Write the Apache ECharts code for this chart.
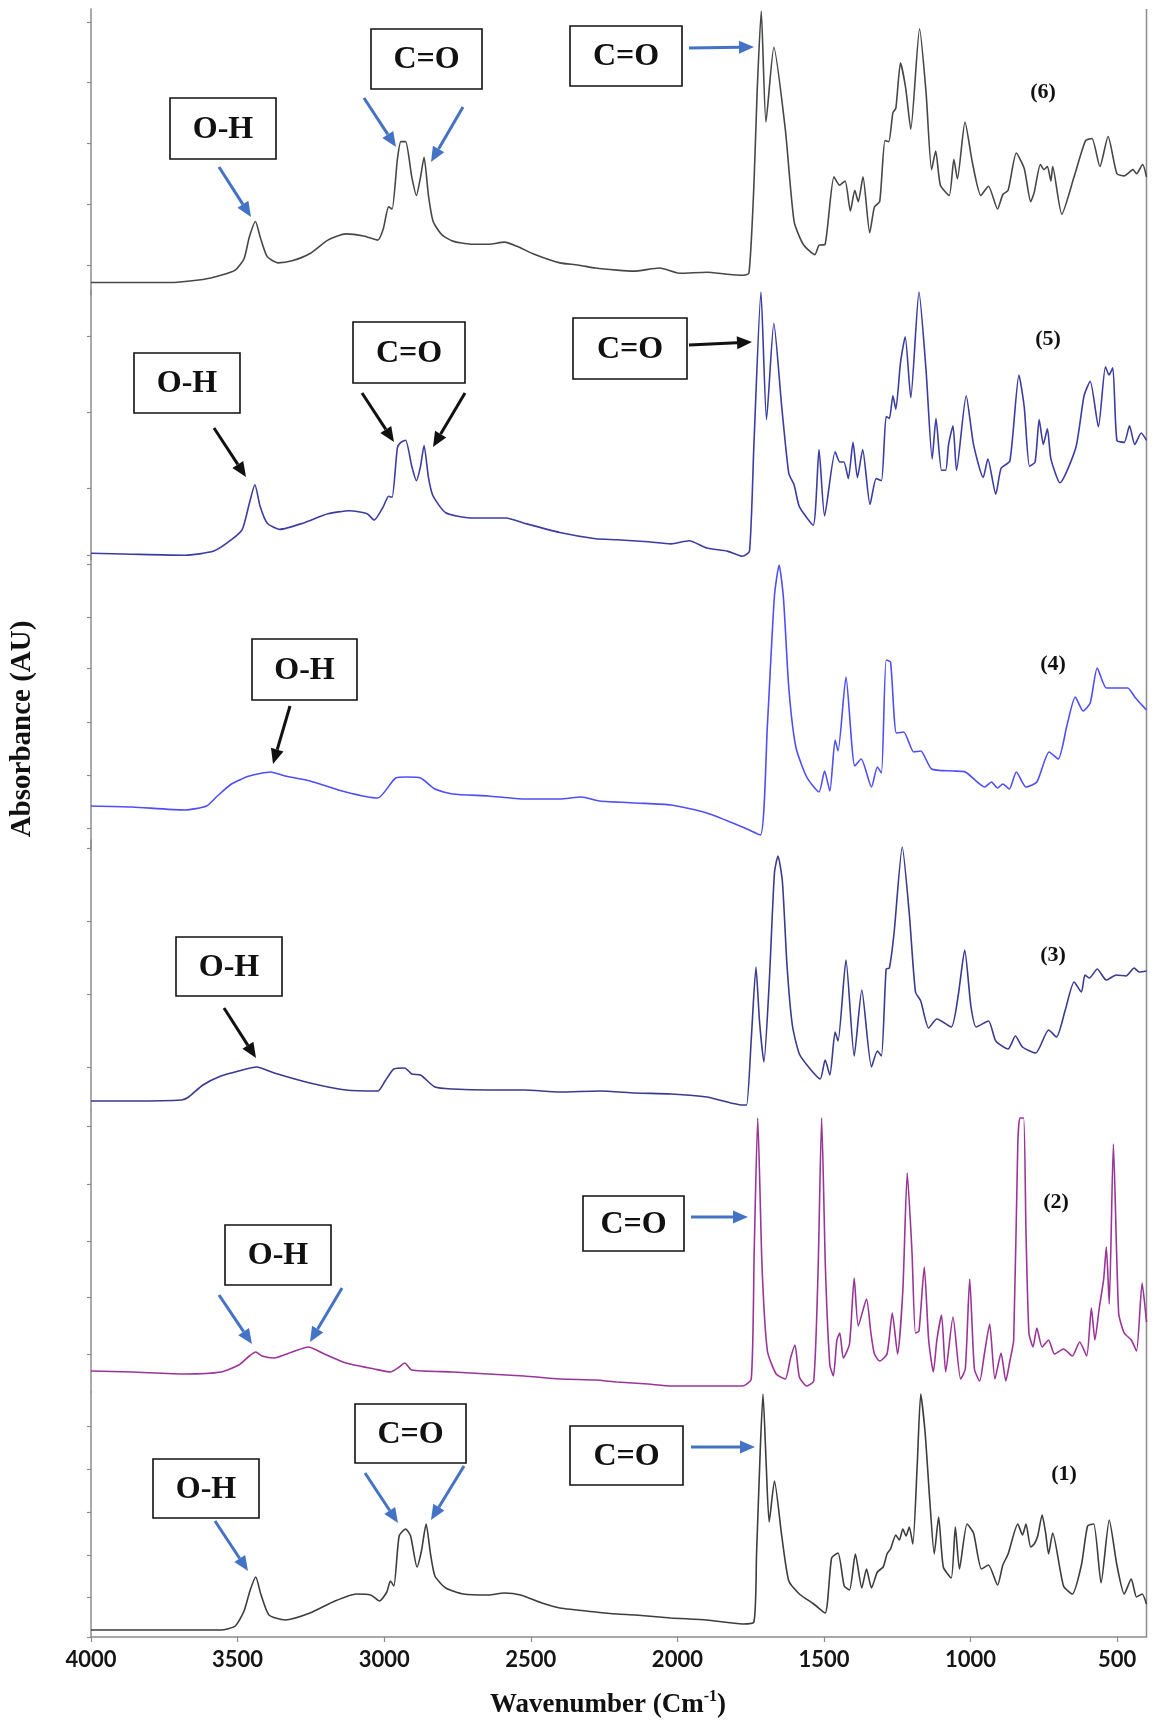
<!DOCTYPE html>
<html><head><meta charset="utf-8">
<script src="https://cdn.jsdelivr.net/npm/echarts@6/dist/echarts.min.js"></script>
<style>html,body{margin:0;padding:0;background:#fff}#c{width:1157px;height:1727px}</style>
</head><body><div id="c"></div>
<script>
// Wavenumber (cm-1) / relative absorbance pairs
const spectrum6 = [[4000,0.012],[3861,0.012],[3740,0.012],[3618,0.015],[3557,0.019],[3508,0.024],[3478,0.035],[3460,0.056],[3439,0.071],[3423,0.056],[3399,0.037],[3362,0.031],[3314,0.033],[3253,0.040],[3192,0.053],[3131,0.059],[3070,0.057],[3022,0.053],[3003,0.064],[2985,0.085],[2973,0.083],[2955,0.131],[2943,0.148],[2927,0.148],[2906,0.114],[2890,0.096],[2876,0.114],[2864,0.133],[2849,0.096],[2833,0.071],[2803,0.058],[2766,0.052],[2705,0.049],[2644,0.049],[2590,0.051],[2547,0.047],[2486,0.039],[2401,0.031],[2340,0.029],[2279,0.026],[2206,0.024],[2150,0.023],[2060,0.026],[1990,0.021],[1900,0.022],[1830,0.020],[1778,0.019],[1756,0.021],[1739,0.106],[1728,0.196],[1714,0.274],[1698,0.167],[1671,0.239],[1632,0.160],[1602,0.071],[1571,0.049],[1531,0.039],[1517,0.048],[1496,0.049],[1466,0.114],[1447,0.106],[1428,0.110],[1410,0.081],[1395,0.101],[1383,0.090],[1367,0.114],[1344,0.060],[1328,0.085],[1310,0.090],[1292,0.149],[1279,0.148],[1265,0.176],[1255,0.180],[1239,0.224],[1221,0.199],[1204,0.160],[1174,0.257],[1152,0.196],[1133,0.121],[1119,0.139],[1103,0.106],[1073,0.096],[1057,0.131],[1045,0.112],[1019,0.167],[994,0.128],[965,0.096],[939,0.105],[908,0.083],[890,0.097],[872,0.101],[844,0.137],[817,0.122],[795,0.090],[783,0.099],[762,0.126],[750,0.121],[738,0.124],[726,0.110],[720,0.124],[689,0.078],[647,0.114],[608,0.149],[586,0.151],[559,0.124],[531,0.153],[501,0.117],[476,0.115],[446,0.121],[434,0.117],[413,0.126],[400,0.114]];

const spectrum5 = [[4000,0.006],[3861,0.005],[3679,0.004],[3581,0.008],[3521,0.019],[3484,0.029],[3460,0.054],[3441,0.072],[3423,0.051],[3399,0.035],[3356,0.029],[3277,0.035],[3192,0.044],[3119,0.047],[3058,0.044],[3034,0.038],[3003,0.051],[2985,0.061],[2973,0.060],[2955,0.108],[2943,0.113],[2927,0.115],[2906,0.090],[2890,0.076],[2876,0.090],[2864,0.110],[2849,0.079],[2833,0.061],[2790,0.045],[2705,0.040],[2584,0.040],[2523,0.035],[2401,0.026],[2279,0.020],[2206,0.019],[2100,0.017],[2022,0.015],[1960,0.018],[1900,0.011],[1830,0.008],[1778,0.003],[1754,0.008],[1739,0.111],[1715,0.258],[1696,0.135],[1671,0.228],[1644,0.147],[1620,0.083],[1602,0.072],[1584,0.051],[1537,0.033],[1517,0.106],[1498,0.042],[1462,0.104],[1446,0.094],[1432,0.094],[1417,0.078],[1401,0.113],[1386,0.079],[1368,0.106],[1343,0.053],[1322,0.078],[1304,0.076],[1288,0.138],[1277,0.136],[1265,0.158],[1255,0.145],[1239,0.190],[1223,0.215],[1204,0.156],[1176,0.258],[1152,0.183],[1131,0.097],[1118,0.136],[1099,0.086],[1085,0.086],[1075,0.111],[1060,0.129],[1048,0.086],[1015,0.158],[990,0.111],[957,0.079],[941,0.097],[914,0.063],[896,0.088],[866,0.095],[835,0.178],[817,0.147],[799,0.090],[780,0.094],[766,0.135],[752,0.111],[738,0.126],[726,0.097],[695,0.074],[641,0.108],[613,0.158],[592,0.172],[564,0.128],[540,0.186],[528,0.178],[515,0.185],[501,0.115],[476,0.113],[458,0.129],[440,0.111],[418,0.122],[400,0.115]];

const spectrum4 = [[4000,0.044],[3861,0.043],[3679,0.040],[3606,0.044],[3569,0.054],[3521,0.066],[3460,0.074],[3387,0.078],[3338,0.074],[3253,0.069],[3131,0.058],[3022,0.052],[2961,0.072],[2924,0.073],[2876,0.072],[2827,0.061],[2766,0.056],[2645,0.054],[2523,0.051],[2401,0.051],[2328,0.053],[2265,0.049],[2143,0.047],[2022,0.045],[1900,0.037],[1778,0.023],[1717,0.015],[1693,0.125],[1669,0.254],[1653,0.285],[1638,0.251],[1620,0.162],[1596,0.103],[1559,0.073],[1517,0.058],[1498,0.079],[1480,0.059],[1462,0.110],[1452,0.099],[1425,0.173],[1395,0.084],[1373,0.091],[1338,0.063],[1318,0.083],[1304,0.077],[1288,0.190],[1273,0.188],[1253,0.117],[1228,0.118],[1194,0.098],[1170,0.099],[1133,0.081],[1060,0.079],[1018,0.078],[951,0.063],[929,0.068],[908,0.062],[890,0.066],[868,0.061],[844,0.078],[811,0.063],[774,0.068],[732,0.098],[701,0.091],[671,0.125],[643,0.153],[616,0.139],[592,0.147],[568,0.182],[537,0.162],[501,0.162],[464,0.162],[440,0.153],[422,0.147],[400,0.140]];

const spectrum3 = [[4000,0.009],[3861,0.009],[3691,0.010],[3667,0.013],[3618,0.025],[3557,0.034],[3496,0.039],[3435,0.043],[3375,0.037],[3253,0.027],[3131,0.020],[3022,0.019],[2997,0.029],[2967,0.041],[2930,0.042],[2906,0.036],[2876,0.035],[2827,0.023],[2766,0.021],[2645,0.020],[2523,0.020],[2401,0.018],[2265,0.019],[2143,0.017],[2022,0.016],[1900,0.013],[1778,0.005],[1764,0.005],[1748,0.071],[1732,0.143],[1720,0.089],[1705,0.048],[1687,0.126],[1669,0.237],[1657,0.254],[1642,0.229],[1626,0.144],[1608,0.085],[1584,0.056],[1547,0.041],[1513,0.031],[1496,0.050],[1480,0.035],[1462,0.078],[1452,0.069],[1425,0.150],[1397,0.054],[1371,0.120],[1338,0.043],[1318,0.059],[1304,0.054],[1288,0.141],[1277,0.142],[1261,0.177],[1233,0.263],[1209,0.196],[1188,0.118],[1170,0.109],[1143,0.082],[1115,0.091],[1066,0.083],[1042,0.115],[1020,0.160],[999,0.104],[981,0.083],[939,0.089],[914,0.069],[872,0.061],[847,0.074],[823,0.063],[778,0.057],[734,0.080],[707,0.073],[677,0.100],[647,0.128],[622,0.118],[610,0.135],[595,0.132],[568,0.141],[537,0.130],[503,0.135],[470,0.134],[442,0.142],[425,0.138],[400,0.139]];

const spectrum2 = [[4000,0.021],[3861,0.020],[3679,0.018],[3557,0.020],[3496,0.027],[3460,0.036],[3438,0.040],[3417,0.036],[3375,0.034],[3314,0.040],[3259,0.045],[3204,0.038],[3131,0.029],[3034,0.023],[2979,0.020],[2949,0.025],[2930,0.029],[2906,0.022],[2766,0.020],[2645,0.018],[2523,0.016],[2401,0.013],[2279,0.012],[2206,0.010],[2100,0.008],[2022,0.006],[1900,0.006],[1778,0.006],[1748,0.013],[1738,0.141],[1726,0.274],[1711,0.123],[1693,0.041],[1663,0.018],[1632,0.013],[1614,0.034],[1599,0.047],[1584,0.015],[1559,0.006],[1535,0.011],[1520,0.123],[1508,0.274],[1495,0.123],[1480,0.027],[1468,0.016],[1456,0.052],[1446,0.059],[1434,0.034],[1413,0.048],[1397,0.114],[1383,0.066],[1355,0.093],[1340,0.059],[1328,0.038],[1310,0.031],[1285,0.038],[1267,0.079],[1249,0.038],[1231,0.102],[1216,0.219],[1200,0.141],[1188,0.059],[1176,0.061],[1158,0.125],[1143,0.052],[1127,0.020],[1115,0.052],[1099,0.077],[1085,0.020],[1060,0.075],[1034,0.013],[1018,0.023],[1003,0.113],[987,0.023],[969,0.011],[953,0.038],[935,0.068],[917,0.013],[896,0.039],[880,0.011],[866,0.031],[853,0.052],[839,0.248],[832,0.274],[819,0.274],[811,0.159],[801,0.059],[787,0.045],[774,0.064],[756,0.045],[734,0.052],[714,0.038],[683,0.043],[653,0.036],[628,0.050],[604,0.036],[588,0.084],[576,0.052],[561,0.084],[546,0.113],[537,0.145],[527,0.088],[513,0.248],[495,0.079],[476,0.059],[452,0.052],[434,0.041],[415,0.109],[400,0.070]];

const spectrum1 = [[4000,0.007],[3861,0.007],[3679,0.007],[3557,0.007],[3508,0.011],[3478,0.026],[3457,0.047],[3438,0.060],[3421,0.043],[3393,0.022],[3338,0.017],[3253,0.024],[3168,0.036],[3095,0.043],[3046,0.042],[3016,0.036],[2991,0.045],[2979,0.056],[2967,0.051],[2949,0.101],[2927,0.108],[2910,0.101],[2888,0.070],[2873,0.086],[2857,0.113],[2842,0.083],[2827,0.061],[2790,0.049],[2730,0.043],[2645,0.042],[2590,0.044],[2535,0.042],[2462,0.034],[2401,0.029],[2279,0.025],[2206,0.023],[2143,0.022],[2022,0.019],[1900,0.017],[1778,0.013],[1739,0.015],[1730,0.083],[1717,0.190],[1708,0.243],[1697,0.172],[1687,0.115],[1669,0.156],[1644,0.101],[1620,0.056],[1584,0.043],[1535,0.033],[1496,0.024],[1474,0.079],[1452,0.084],[1431,0.051],[1413,0.047],[1393,0.083],[1371,0.049],[1355,0.068],[1338,0.049],[1318,0.065],[1298,0.070],[1285,0.083],[1273,0.088],[1255,0.102],[1243,0.097],[1231,0.108],[1220,0.101],[1209,0.110],[1197,0.093],[1182,0.172],[1170,0.243],[1155,0.204],[1139,0.136],[1124,0.083],[1109,0.120],[1093,0.070],[1066,0.059],[1052,0.110],[1038,0.068],[1012,0.113],[990,0.104],[963,0.068],[939,0.072],[908,0.052],[890,0.072],[872,0.083],[839,0.113],[823,0.102],[811,0.113],[795,0.090],[783,0.093],[771,0.101],[756,0.122],[744,0.104],[734,0.083],[720,0.104],[683,0.051],[653,0.043],[622,0.072],[601,0.111],[580,0.113],[555,0.054],[527,0.117],[501,0.072],[476,0.043],[452,0.058],[434,0.040],[415,0.043],[400,0.033]];

const sampleLabels = ['(6)','(5)','(4)','(3)','(2)','(1)'];
const xTickLabels = [4000,3500,3000,2500,2000,1500,1000,500];

const spectra = [spectrum6, spectrum5, spectrum4, spectrum3, spectrum2, spectrum1];
const colors = ['#474747','#3c3ca2','#4f4ff5','#3a3a8e','#9a3598','#3d3d3d'];
// panel layout (px) and y-range of each stacked panel
const panels = [
  {top:9,     height:286,   max:0.276, ticks:[0.029,0.088,0.146,0.205,0.263]},
  {top:290.1, height:269.3, max:0.260, ticks:[0.004,0.069,0.142,0.215]},
  {top:555,   height:295,   max:0.295, ticks:[0.022,0.075,0.128,0.182,0.233,0.286]},
  {top:840,   height:270,   max:0.270, ticks:[0.043,0.116,0.189,0.262]},
  {top:1110,  height:282,   max:0.282, ticks:[0.038,0.095,0.151,0.208,0.266]},
  {top:1392,  height:245,   max:0.245, ticks:[0,0.040,0.082,0.125,0.168,0.211]}
];
const AX = '#8c8c8c';
const grids = [], xAxes = [], yAxes = [], series = [];
panels.forEach((p, i) => {
  grids.push({left:91, right:10.5, top:p.top, height:p.height});
  const last = i === panels.length - 1;
  xAxes.push({
    gridIndex:i, type:'value', min:400, max:4000, inverse:true, show:last,
    axisLine:{show:true, onZero:false, lineStyle:{color:AX, width:1.5}},
    axisTick:{show:true, customValues:xTickLabels, length:5, lineStyle:{color:AX, width:1.2}},
    axisLabel:{show:true, customValues:xTickLabels, formatter:v => String(v), fontSize:22, fontWeight:'bold', fontFamily:'Lato', color:'#151515', margin:12},
    splitLine:{show:false}
  });
  yAxes.push({
    gridIndex:i, type:'value', min:0, max:p.max,
    axisLine:{show:true, lineStyle:{color:AX, width:1.5}},
    axisTick:{show:true, customValues:p.ticks, length:4, lineStyle:{color:AX, width:1.2}},
    axisLabel:{show:false}, splitLine:{show:false}
  });
  series.push({
    type:'line', xAxisIndex:i, yAxisIndex:i, data:spectra[i], showSymbol:false, smooth:0.2,
    lineStyle:{color:colors[i], width:1.6}, itemStyle:{color:colors[i]}, silent:true
  });
});

// annotation layout
const SERIF = '"Liberation Serif", "Times New Roman", serif';
const boxes = [
  [170,98,106,61,'O-H'],[371,29,111,60,'C=O'],[570,26,112,60,'C=O'],
  [134,353,106,60,'O-H'],[353,322,112,61,'C=O'],[573,318,114,61,'C=O'],
  [252,639,105,61,'O-H'],
  [176,937,106,59,'O-H'],
  [225,1225,106,60,'O-H'],[583,1196,101,55,'C=O'],
  [153,1459,106,59,'O-H'],[355,1404,111,59,'C=O'],[570,1426,113,59,'C=O']
];
const BLUE = '#4472c4', BLACK = '#111111';
const arrows = [
  [219,167,251,217,BLUE],[364,98,396,147,BLUE],[463,107,431,162,BLUE],[689,48,754,47,BLUE],
  [214,428,246,477,BLACK],[362,393,394,442,BLACK],[465,393,433,447,BLACK],[689,345,752,342,BLACK],
  [290,706,273,764,BLACK],
  [224,1008,256,1058,BLACK],
  [219,1295,252,1344,BLUE],[342,1288,310,1342,BLUE],[691,1217,748,1217,BLUE],
  [215,1521,248,1571,BLUE],[365,1473,398,1523,BLUE],[464,1466,431,1520,BLUE],[691,1447,755,1447,BLUE]
];
const labelPos = [[1043,92],[1048,339],[1053,664],[1053,955],[1056,1202],[1064,1474]];

const graphic = [];
graphic.push({type:'line', shape:{x1:1146.5, y1:9, x2:1146.5, y2:1637}, style:{stroke:AX, lineWidth:1.5}});
boxes.forEach(b => {
  graphic.push({type:'rect', shape:{x:b[0], y:b[1], width:b[2], height:b[3]}, style:{fill:'#fff', stroke:'#111', lineWidth:1.6}, z:10});
  graphic.push({type:'text', x:b[0]+b[2]/2, y:b[1]+b[3]/2+1, style:{text:b[4], align:'center', verticalAlign:'middle', font:'bold 32px ' + SERIF, fill:'#111'}, z:11});
});
arrows.forEach(a => {
  const [x1,y1,x2,y2,c] = a;
  const ang = Math.atan2(y2-y1, x2-x1), L = 15, W = 6.5;
  const bx = x2 - L*Math.cos(ang), by = y2 - L*Math.sin(ang);
  const px = -Math.sin(ang), py = Math.cos(ang);
  graphic.push({type:'line', shape:{x1:x1, y1:y1, x2:bx, y2:by}, style:{stroke:c, lineWidth:3}, z:10});
  graphic.push({type:'polygon', shape:{points:[[x2,y2],[bx+W*px,by+W*py],[bx-W*px,by-W*py]]}, style:{fill:c}, z:10});
});
sampleLabels.forEach((t, i) => {
  graphic.push({type:'text', x:labelPos[i][0], y:labelPos[i][1], style:{text:t, align:'center', verticalAlign:'middle', font:'bold 22px ' + SERIF, fill:'#111'}, z:11});
});
graphic.push({type:'text', x:23, y:729, rotation:Math.PI/2, style:{text:'Absorbance (AU)', align:'center', verticalAlign:'middle', font:'bold 29px ' + SERIF, fill:'#111'}});
graphic.push({type:'text', x:608, y:1703, style:{
  text:'{m|Wavenumber (Cm}{s|-1}{m|)}', align:'center', verticalAlign:'middle',
  rich:{
    m:{fontSize:27, fontWeight:'bold', fontFamily:SERIF, fill:'#111', lineHeight:32, verticalAlign:'bottom'},
    s:{fontSize:16, fontWeight:'bold', fontFamily:SERIF, fill:'#111', lineHeight:32, verticalAlign:'top', padding:[2,0,0,0]}
  }}});

const chart = echarts.init(document.getElementById('c'), null, {renderer:'canvas'});
chart.setOption({
  animation:false, backgroundColor:'#fff',
  grid:grids, xAxis:xAxes, yAxis:yAxes, series:series, graphic:graphic
});
</script></body></html>
